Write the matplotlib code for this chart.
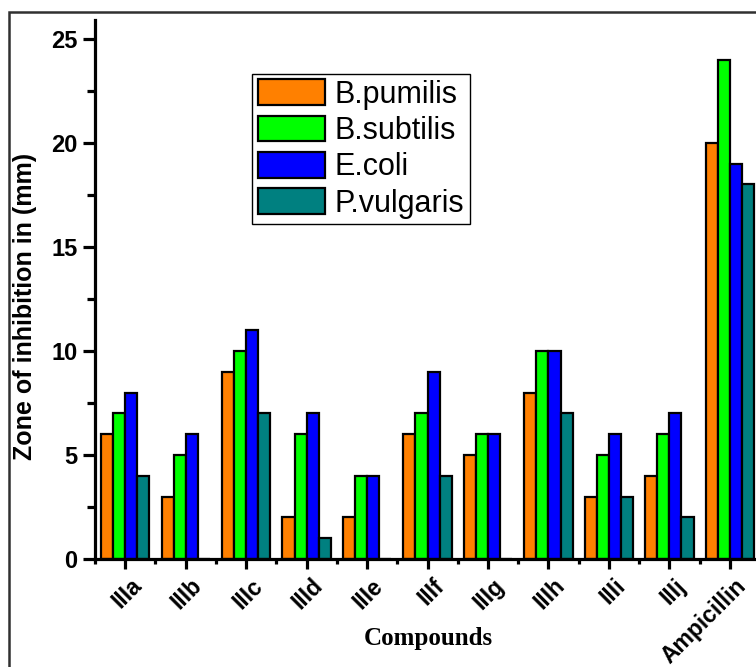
import matplotlib
matplotlib.use("Agg")
import matplotlib.pyplot as plt
import matplotlib.transforms as mtransforms
from matplotlib.patches import Rectangle
from matplotlib.ticker import FixedLocator
import numpy as np

categories = ["IIIa", "IIIb", "IIIc", "IIId", "IIIe", "IIIf", "IIIg", "IIIh", "IIIi", "IIIj", "Ampicillin"]
b_pumilis = [6, 3, 9, 2, 2, 6, 5, 8, 3, 4, 20]
b_subtilis = [7, 5, 10, 6, 4, 7, 6, 10, 5, 6, 24]
e_coli = [8, 6, 11, 7, 4, 9, 6, 10, 6, 7, 19]
p_vulgaris = [4, 0, 7, 1, 0, 4, 0, 7, 3, 2, 18]
series_names = ["B.pumilis", "B.subtilis", "E.coli", "P.vulgaris"]
colors = ["#FF8000", "#00FF00", "#0000FF", "#008080"]

W, H = 756, 667
fig = plt.figure(figsize=(W / 100, H / 100), dpi=100)
ax = fig.add_axes([95 / W, (H - 559) / H, (760 - 95) / W, (559 - 20) / H])

x = np.arange(len(categories))
bw = 0.2
all_series = [b_pumilis, b_subtilis, e_coli, p_vulgaris]
for i, (vals, name, c) in enumerate(zip(all_series, series_names, colors)):
    ax.bar(x + (i - 1.5) * bw, vals, width=bw, color=c, edgecolor="black",
           linewidth=1.6, label=name, zorder=2)

ax.set_xlim(-0.5, 10.5)
ax.set_ylim(0, 25.9)

for s in ["top", "right"]:
    ax.spines[s].set_visible(False)
for s in ["left", "bottom"]:
    ax.spines[s].set_linewidth(2.3)

ax.yaxis.set_major_locator(FixedLocator([0, 5, 10, 15, 20, 25]))
ax.yaxis.set_minor_locator(FixedLocator([2.5, 7.5, 12.5, 17.5, 22.5]))
ax.set_xticks(x)
ax.xaxis.set_minor_locator(FixedLocator(np.arange(-0.5, 10.6, 1.0)))

ax.tick_params(axis="y", which="major", length=8.5, width=2.3, direction="out", pad=4)
ax.tick_params(axis="y", which="minor", length=5.5, width=2.3, direction="out")
ax.tick_params(axis="x", which="major", length=7, width=2.3, direction="out", pad=4)
ax.tick_params(axis="x", which="minor", length=3.5, width=2.3, direction="out")

for lab in ax.get_yticklabels():
    lab.set_fontfamily("Liberation Sans")
    lab.set_fontweight("bold")
    lab.set_fontsize(17)

ax.set_xticklabels(categories, rotation=45, ha="right", va="top",
                   fontfamily="Liberation Sans", fontweight="bold", fontsize=16.5)
offset = mtransforms.ScaledTranslation(0.21, 0.0, fig.dpi_scale_trans)
for lab in ax.get_xticklabels():
    lab.set_transform(lab.get_transform() + offset)

fig.text(25 / W, 1 - 306 / H, "Zone of inhibition in (mm)", rotation=90,
         ha="center", va="center", fontfamily="Liberation Sans",
         fontweight="bold", fontsize=18)
fig.text(428 / W, 1 - 638 / H, "Compounds", ha="center", va="center",
         fontfamily="Liberation Serif", fontweight="bold", fontsize=18)

leg = ax.legend(loc="upper left", bbox_to_anchor=(252 / W, 1 - 74 / H),
                bbox_transform=fig.transFigure, fancybox=False, framealpha=1,
                edgecolor="black", prop={"family": "Liberation Sans", "size": 22},
                handlelength=2.2, handleheight=0.9, labelspacing=0.2,
                borderpad=0.18, handletextpad=0.33, borderaxespad=0)
leg.get_frame().set_linewidth(1.0)

# outer frame
fig.add_artist(Rectangle((9 / W, -0.2), 1.5, 1 - 12 / H + 0.2,
                         transform=fig.transFigure, fill=False,
                         edgecolor="#303030", linewidth=1.8, clip_on=False))

fig.savefig("out.png", dpi=100)
